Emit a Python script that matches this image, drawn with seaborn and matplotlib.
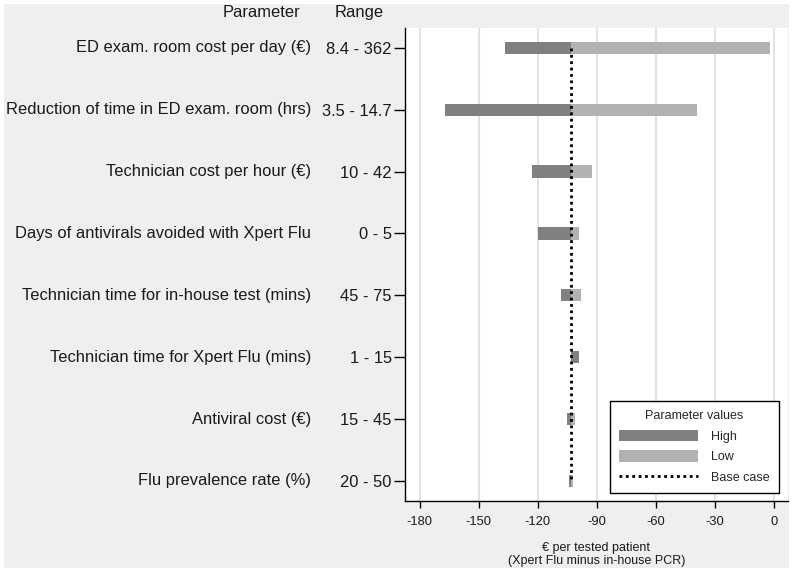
import matplotlib
matplotlib.use("Agg")
import matplotlib.pyplot as plt
import matplotlib.transforms as mtransforms
from matplotlib.patches import Rectangle, Patch
from matplotlib.lines import Line2D
import seaborn as sns

# Data
parameters = [
    "ED exam. room cost per day (\u20ac)",
    "Reduction of time in ED exam. room (hrs)",
    "Technician cost per hour (\u20ac)",
    "Days of antivirals avoided with Xpert Flu",
    "Technician time for in-house test (mins)",
    "Technician time for Xpert Flu (mins)",
    "Antiviral cost (\u20ac)",
    "Flu prevalence rate (%)",
]
ranges = ["8.4 - 362", "3.5 - 14.7", "10 - 42", "0 - 5", "45 - 75", "1 - 15", "15 - 45", "20 - 50"]
base_case = -103
high_values = [-136.7, -167.2, -123.2, -120.1, -108.4, -99.1, -105.2, -104.4]
low_values = [-2.3, -39.2, -92.7, -99.1, -98.0, -103.0, -101.0, -102.2]

sns.set_theme(style="white")
plt.rcParams['font.family'] = ['Liberation Sans', 'DejaVu Sans']
plt.rcParams['axes.unicode_minus'] = False

dark = "#808080"
light = "#b2b2b2"
bg = "#efefef"
txt = "#1a1a1a"
fs = 11.9
dots = (0, (1, 1.3))

fig = plt.figure(figsize=(7.93, 5.72), dpi=100)
fig.patch.set_facecolor("white")
fig.patches.append(Rectangle((4 / 793, 4 / 572), 785 / 793, 564 / 572,
                             transform=fig.transFigure, facecolor=bg,
                             edgecolor="none", zorder=-10))
ax = fig.add_axes([0.5107, 0.1247, 0.4826, 0.8263])
ax.set_facecolor("white")

pos = list(range(len(parameters)))
ax.barh(pos, [h - base_case for h in high_values], left=base_case, height=0.2,
        color=dark, edgecolor="none", zorder=3)
ax.barh(pos, [l - base_case for l in low_values], left=base_case, height=0.2,
        color=light, edgecolor="none", zorder=3)
ax.vlines(base_case, 0, len(parameters) - 1, colors="black", linestyles=dots,
          linewidth=2, zorder=4)

ax.set_xlim(-187.5, 6.8)
ax.set_ylim(len(parameters) - 1 + 0.32, -0.32)
ax.set_xticks(range(-180, 1, 30))
ax.set_yticks(pos)
ax.set_yticklabels(ranges, fontsize=fs, color=txt)
ax.tick_params(axis="y", length=8, width=1, pad=1.5, left=True, direction="out", color="black")
ax.tick_params(axis="x", length=5, width=1, pad=6, bottom=True, direction="out",
               labelsize=9.3, color="black", labelcolor=txt)
ax.grid(axis="x", color="#e3e3e3", linewidth=1.5, zorder=0)
ax.grid(axis="y", visible=False)

for side in ["top", "right"]:
    ax.spines[side].set_visible(False)
for side in ["left", "bottom"]:
    ax.spines[side].set_color("black")
    ax.spines[side].set_linewidth(1)

# Parameter names to the left of the ranges
trans = mtransforms.blended_transform_factory(ax.transAxes, ax.transData)
for i, name in enumerate(parameters):
    ax.text(-0.245, i, name, transform=trans, ha="right", va="center",
            fontsize=fs, color=txt)

fig.text(261.7 / 793, 1 - 12.3 / 572, "Parameter", ha="center", va="center",
         fontsize=fs, color=txt)
fig.text(359.5 / 793, 1 - 12.3 / 572, "Range", ha="center", va="center",
         fontsize=fs, color=txt)

ax.set_xlabel("\u20ac per tested patient\n(Xpert Flu minus in-house PCR)",
              fontsize=9.0, color=txt, labelpad=10, linespacing=1.08)

handles = [Patch(facecolor=dark, edgecolor="none", label="High"),
           Patch(facecolor=light, edgecolor="none", label="Low"),
           Line2D([0], [0], color="black", linestyle=dots, linewidth=2, label="Base case")]
leg = ax.legend(handles=handles, title="Parameter values", loc="lower right",
                bbox_to_anchor=(0.977, 0.0163), borderaxespad=0,
                fontsize=9, title_fontsize=9,
                handlelength=6.3, handleheight=1.0, handletextpad=1.05,
                fancybox=False, framealpha=1, edgecolor="black",
                borderpad=0.75, labelspacing=0.6)
leg.get_frame().set_linewidth(1)

fig.savefig("out.png", dpi=100, facecolor=fig.get_facecolor())
